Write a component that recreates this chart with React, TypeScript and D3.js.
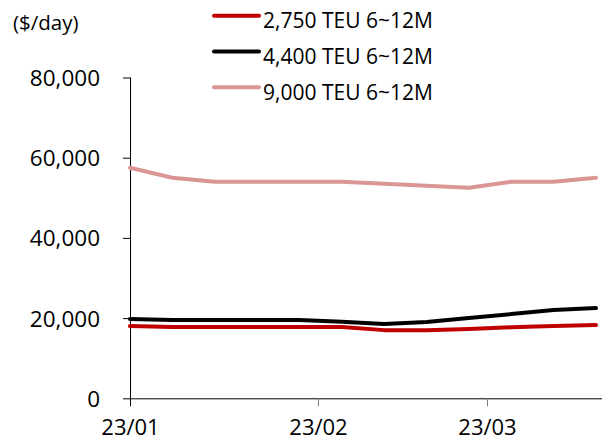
import React from "react";
import * as d3 from "d3";

// Weekly charter rates, $/day
const dates = [
  "2023-01-01", "2023-01-08", "2023-01-15", "2023-01-22", "2023-01-29", "2023-02-05",
  "2023-02-12", "2023-02-19", "2023-02-26", "2023-03-05", "2023-03-12", "2023-03-19",
];
const teu2750 = [18000, 17800, 17800, 17800, 17800, 17800, 17000, 17000, 17300, 17700, 18000, 18250];
const teu4400 = [19800, 19500, 19500, 19500, 19500, 19100, 18500, 19000, 20000, 21000, 22000, 22500];
const teu9000 = [57500, 55000, 54000, 54000, 54000, 54000, 53500, 53000, 52500, 54000, 54000, 55000];

const seriesNames = ["2,750 TEU 6~12M", "4,400 TEU 6~12M", "9,000 TEU 6~12M"];
const seriesColors = ["#C00000", "#000000", "#DA9694"];
const yTicks = [0, 20000, 40000, 60000, 80000];
const xTickDates = ["2023-01-01", "2023-02-01", "2023-03-01"];
const xTickLabels = ["23/01", "23/02", "23/03"];
const unitLabel = "($/day)";

const W = 603;
const H = 441;
const FONT = "'Open Sans', 'Noto Sans', sans-serif";

export default function App() {
  const parse = d3.timeParse("%Y-%m-%d");
  const x = d3
    .scaleTime()
    .domain([parse("2023-01-01")!, parse("2023-03-20")!])
    .range([130, 602]);
  const y = d3.scaleLinear().domain([0, 80000]).range([398.3, 77.5]);

  const allSeries = [teu2750, teu4400, teu9000];
  const line = d3
    .line<number>()
    .x((_, i) => x(parse(dates[i])!))
    .y((v) => y(v));

  const fmt = d3.format(",");

  return (
    <svg
      width={W}
      height={H}
      style={{ position: "absolute", left: 0, top: 0, background: "#fff" }}
      fontFamily={FONT}
    >
      <rect width={W} height={H} fill="#fff" />
      {/* unit label */}
      <text x={13} y={30} fontSize={20.5} fill="#000">
        {unitLabel}
      </text>

      {/* y axis */}
      <line x1={130.5} x2={130.5} y1={y(80000)} y2={y(0)} stroke="#000" strokeWidth={1} />
      {yTicks.map((t) => (
        <g key={t}>
          <line x1={123} x2={130.5} y1={y(t) + 0.5} y2={y(t) + 0.5} stroke="#000" strokeWidth={1} />
          <text x={100} y={y(t) + 8.5} fontSize={22.5} textAnchor="end" fill="#000">
            {fmt(t)}
          </text>
        </g>
      ))}

      {/* x axis */}
      <line x1={130} x2={602} y1={y(0) + 0.5} y2={y(0) + 0.5} stroke="#000" strokeWidth={1} />
      {xTickDates.map((d, i) => {
        const px = Math.round(x(parse(d)!)) + 0.5;
        return (
          <g key={d}>
            <line x1={px} x2={px} y1={y(0)} y2={y(0) + 8} stroke={i === 0 ? "#000" : "#808080"} strokeWidth={1} />
            <text x={px} y={435} fontSize={22} textAnchor="middle" fill="#000">
              {xTickLabels[i]}
            </text>
          </g>
        );
      })}

      {/* series */}
      {allSeries.map((s, i) => (
        <path
          key={i}
          d={line(s) ?? ""}
          fill="none"
          stroke={seriesColors[i]}
          strokeWidth={4}
          strokeLinejoin="round"
          strokeLinecap="round"
        />
      ))}

      {/* legend */}
      {seriesNames.map((name, i) => {
        const ly = 15.7 + i * 35.8;
        return (
          <g key={name}>
            <line x1={214} x2={259} y1={ly} y2={ly} stroke={seriesColors[i]} strokeWidth={4} strokeLinecap="round" />
            <text x={263} y={ly + 12.5} fontSize={21} fill="#000">
              {name}
            </text>
          </g>
        );
      })}
    </svg>
  );
}
